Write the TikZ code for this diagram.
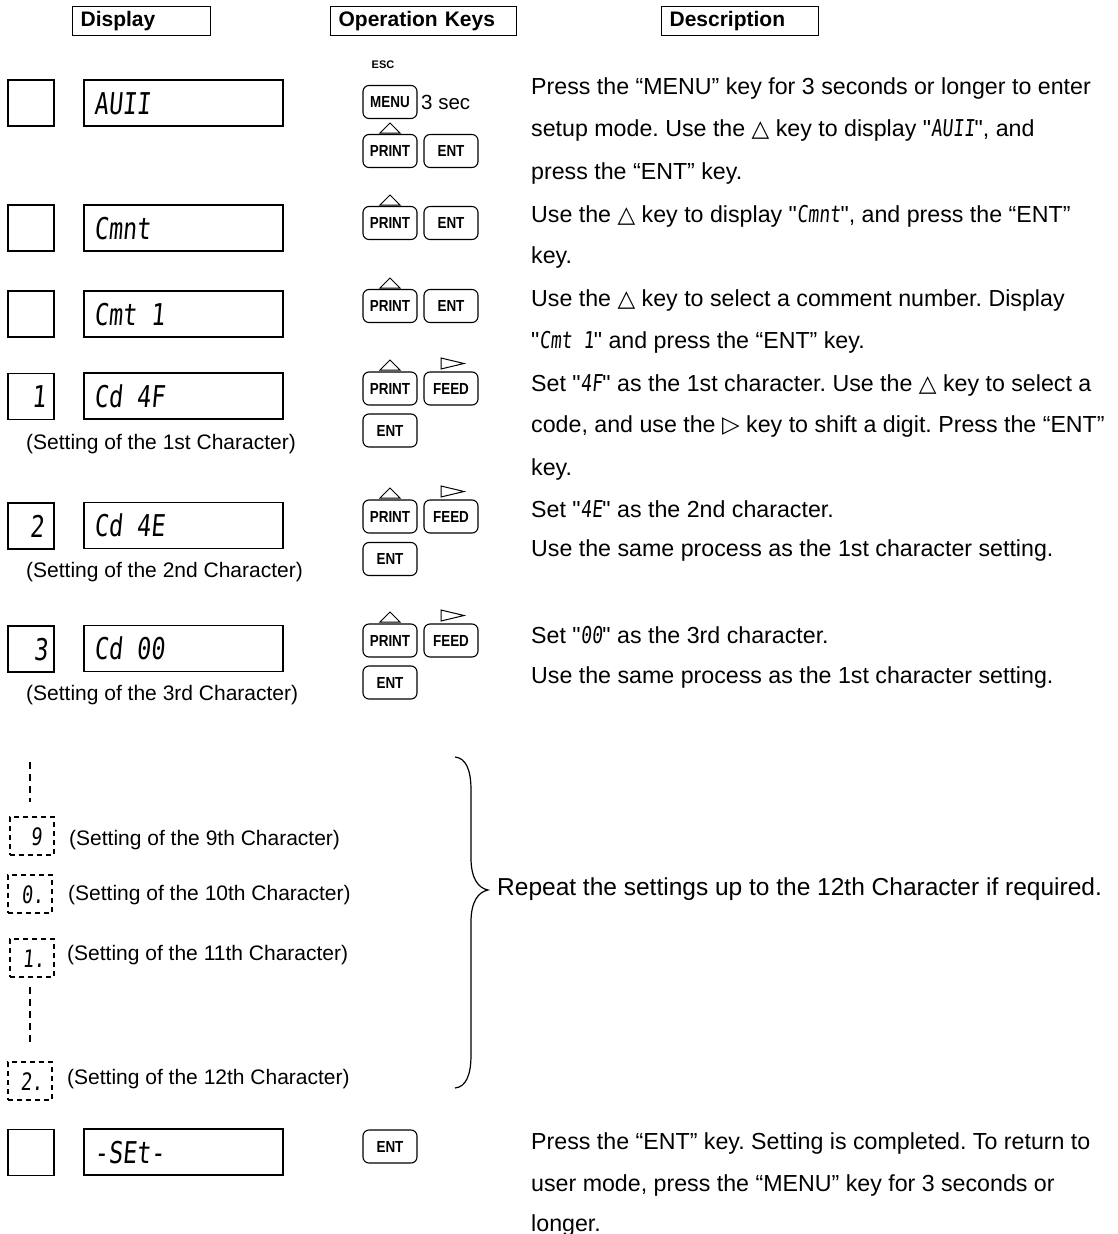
\documentclass[tikz,border=0pt]{standalone}
\usepackage{fontspec}
\usepackage{graphicx}
\setmainfont{Liberation Sans}[Ligatures=TeXOff]
\newfontfamily\dejavu{DejaVu Sans}
\newfontfamily\segf{DejaVu Sans Mono}[FakeSlant=0.12]
\newcommand{\seg}[1]{\scalebox{0.78}[1]{\segf #1}}
\newcommand{\tri}{{\dejavu\fontsize{23}{23}\selectfont △}}
\newcommand{\rtri}{{\dejavu\fontsize{23}{23}\selectfont ▷}}
\newcommand{\kl}[1]{\scalebox{0.84}[1]{#1}}
\frenchspacing
\begin{document}
\begin{tikzpicture}[x=1pt,y=-1pt,
  hdr/.style={draw, line width=1.2pt, minimum width=#1, minimum height=29pt, text width=#1-16pt, inner xsep=8pt, inner ysep=0pt, align=left, anchor=north west, font=\bfseries\fontsize{21}{21}\selectfont},
  sq/.style={draw, line width=1.2pt, minimum width=46pt, minimum height=46pt, inner sep=0pt},
  disp/.style={draw, line width=1.2pt, minimum width=199pt, minimum height=46pt, inner sep=0pt},
  segtxt/.style={anchor=base west, inner sep=0pt, font=\fontsize{30}{30}\selectfont},
  segnum/.style={anchor=base east, inner sep=0pt, font=\fontsize{30}{30}\selectfont},
  key/.style={draw, line width=1.1pt, rounded corners=6pt, minimum width=54pt, minimum height=33pt, inner sep=0pt, font=\bfseries\fontsize{16}{16}\selectfont},
  uptri/.style={draw, line width=1pt},
  desc/.style={anchor=base west, inner sep=0pt, font=\fontsize{23.2}{26}\selectfont},
  capt/.style={anchor=base west, inner sep=0pt, font=\fontsize{21}{25}\selectfont},
  dbox/.style={draw, dashed, dash pattern=on 5pt off 4pt, line width=1.2pt, minimum width=44pt, minimum height=38pt, inner sep=0pt},
  dline/.style={dashed, dash pattern=on 7pt off 5pt, line width=1.4pt}
]
\useasboundingbox (0,0) rectangle (1117,1234);

% headers
\node[hdr=138pt] (hdisp) at (72,6) {Display};
\node[hdr=186pt] (hkeys) at (330,6) {Operation Keys};
\node[hdr=157pt] (hdesc) at (661,6) {Description};

% row 1
\node[sq] (s1) at (31,103) {};
\node[disp] (d1) at (183.5,103) {};
\node[segtxt] (t1) at (94,114) {\seg{AUII}};
\node[inner sep=0pt, font=\bfseries\fontsize{11}{11}\selectfont] (esc) at (383,65) {ESC};
\node[key] (k1m) at (390,102) {\kl{MENU}};
\node[capt, font=\fontsize{20.5}{24}\selectfont] (sec) at (421,109) {3 sec};
\node[key] (k1p) at (390,151) {\kl{PRINT}};
\node[key] (k1e) at (451,151) {\kl{ENT}};
\draw[uptri] (380,133) -- (400,133) -- (390,123) -- cycle;
\node[desc] (r1a) at (531,94) {Press the “MENU” key for 3 seconds or longer to enter};
\node[desc] (r1b) at (531,136) {setup mode. Use the \tri{} key to display "\seg{AUII}", and};
\node[desc] (r1c) at (531,179) {press the “ENT” key.};

% row 2
\node[sq] (s2) at (31,228) {};
\node[disp] (d2) at (183.5,228) {};
\node[segtxt] (t2) at (94,239) {\seg{Cmnt}};
\node[key] (k2p) at (390,223) {\kl{PRINT}};
\node[key] (k2e) at (451,223) {\kl{ENT}};
\draw[uptri] (380,205) -- (400,205) -- (390,195) -- cycle;
\node[desc] (r2a) at (531,222) {Use the \tri{} key to display "\seg{Cmnt}", and press the “ENT”};
\node[desc] (r2b) at (531,263) {key.};

% row 3
\node[sq] (s3) at (31,314) {};
\node[disp] (d3) at (183.5,314) {};
\node[segtxt] (t3) at (94,325) {\seg{Cmt 1}};
\node[key] (k3p) at (390,306) {\kl{PRINT}};
\node[key] (k3e) at (451,306) {\kl{ENT}};
\draw[uptri] (380,288) -- (400,288) -- (390,278) -- cycle;
\node[desc] (r3a) at (531,306) {Use the \tri{} key to select a comment number. Display};
\node[desc] (r3b) at (531,348) {"\seg{Cmt 1}" and press the “ENT” key.};

% row 4
\node[sq] (s4) at (31,396.5) {};
\node[segnum] (n4) at (46,407.5) {\seg{1}};
\node[disp] (d4) at (183.5,396) {};
\node[segtxt] (t4) at (94,407) {\seg{Cd 4F}};
\node[capt] (c4) at (26,449) {(Setting of the 1st Character)};
\node[key] (k4p) at (390,388.5) {\kl{PRINT}};
\node[key] (k4f) at (451,388.5) {\kl{FEED}};
\node[key] (k4e) at (390,430.5) {\kl{ENT}};
\draw[uptri] (380,370) -- (400,370) -- (390,360) -- cycle;
\draw[uptri] (441,358) -- (441,369) -- (464,363.5) -- cycle;
\node[desc] (r4a) at (531,391) {Set "\seg{4F}" as the 1st character. Use the \tri{} key to select a};
\node[desc] (r4b) at (531,432) {code, and use the \rtri{} key to shift a digit. Press the “ENT”};
\node[desc] (r4c) at (531,475) {key.};

% row 5
\node[sq] (s5) at (31,526) {};
\node[segnum] (n5) at (44,537) {\seg{2}};
\node[disp] (d5) at (183.5,525.5) {};
\node[segtxt] (t5) at (94,536.5) {\seg{Cd 4E}};
\node[capt] (c5) at (26,577) {(Setting of the 2nd Character)};
\node[key] (k5p) at (390,516.5) {\kl{PRINT}};
\node[key] (k5f) at (451,516.5) {\kl{FEED}};
\node[key] (k5e) at (390,559) {\kl{ENT}};
\draw[uptri] (380,498) -- (400,498) -- (390,488) -- cycle;
\draw[uptri] (441,486) -- (441,497) -- (464,491.5) -- cycle;
\node[desc] (r5a) at (531,517) {Set "\seg{4E}" as the 2nd character.};
\node[desc] (r5b) at (531,556) {Use the same process as the 1st character setting.};

% row 6
\node[sq] (s6) at (31,649) {};
\node[segnum] (n6) at (48,660) {\seg{3}};
\node[disp] (d6) at (183.5,648.5) {};
\node[segtxt] (t6) at (94,659.5) {\seg{Cd 00}};
\node[capt] (c6) at (26,700) {(Setting of the 3rd Character)};
\node[key] (k6p) at (390,640.5) {\kl{PRINT}};
\node[key] (k6f) at (451,640.5) {\kl{FEED}};
\node[key] (k6e) at (390,682.5) {\kl{ENT}};
\draw[uptri] (380,622) -- (400,622) -- (390,612) -- cycle;
\draw[uptri] (441,610) -- (441,621) -- (464,615.5) -- cycle;
\node[desc] (r6a) at (531,643) {Set "\seg{00}" as the 3rd character.};
\node[desc] (r6b) at (531,683) {Use the same process as the 1st character setting.};

% dashed section
\coordinate (dtop) at (30,762);
\coordinate (dtopend) at (30,802);
\draw[dline] (dtop) -- (dtopend);
\node[dbox] (b9) at (32,836) {};
\node[segnum, font=\fontsize{24}{24}\selectfont] (n9) at (42,845) {\seg{9}};
\node[capt] (c9) at (69,845) {(Setting of the 9th Character)};
\node[dbox] (b10) at (30,894) {};
\node[segnum, font=\fontsize{24}{24}\selectfont] (n10) at (44,903) {\seg{0.}};
\node[capt] (c10) at (68,900) {(Setting of the 10th Character)};
\node[dbox] (b11) at (32,958) {};
\node[segnum, font=\fontsize{24}{24}\selectfont] (n11) at (45,967) {\seg{1.}};
\node[capt] (c11) at (67,960) {(Setting of the 11th Character)};
\coordinate (dmid) at (30,987);
\coordinate (dmidend) at (30,1043);
\draw[dline] (dmid) -- (dmidend);
\node[dbox] (b12) at (30,1081) {};
\node[segnum, font=\fontsize{24}{24}\selectfont] (n12) at (43,1090) {\seg{2.}};
\node[capt] (c12) at (67,1084) {(Setting of the 12th Character)};

% brace
\draw[line width=1.2pt] (455,757) .. controls (466,758) and (471,770) .. (471,790) -- (471,858)
  .. controls (471,878) and (478,888) .. (488,890)
  .. controls (478,892) and (471,902) .. (471,922) -- (471,1055)
  .. controls (471,1075) and (466,1087) .. (455,1088);
\node[desc, font=\fontsize{24.5}{28}\selectfont] (rep) at (497,895) {Repeat the settings up to the 12th Character if required.};

% last row
\node[sq] (s7) at (31,1152.5) {};
\node[disp] (d7) at (183.5,1152) {};
\node[segtxt] (t7) at (94,1163) {\seg{-SEt-}};
\node[key] (k7e) at (390,1146.5) {\kl{ENT}};
\node[desc] (r7a) at (531,1149) {Press the “ENT” key. Setting is completed. To return to};
\node[desc] (r7b) at (531,1191) {user mode, press the “MENU” key for 3 seconds or};
\node[desc] (r7c) at (531,1231) {longer.};
\end{tikzpicture}
\end{document}
